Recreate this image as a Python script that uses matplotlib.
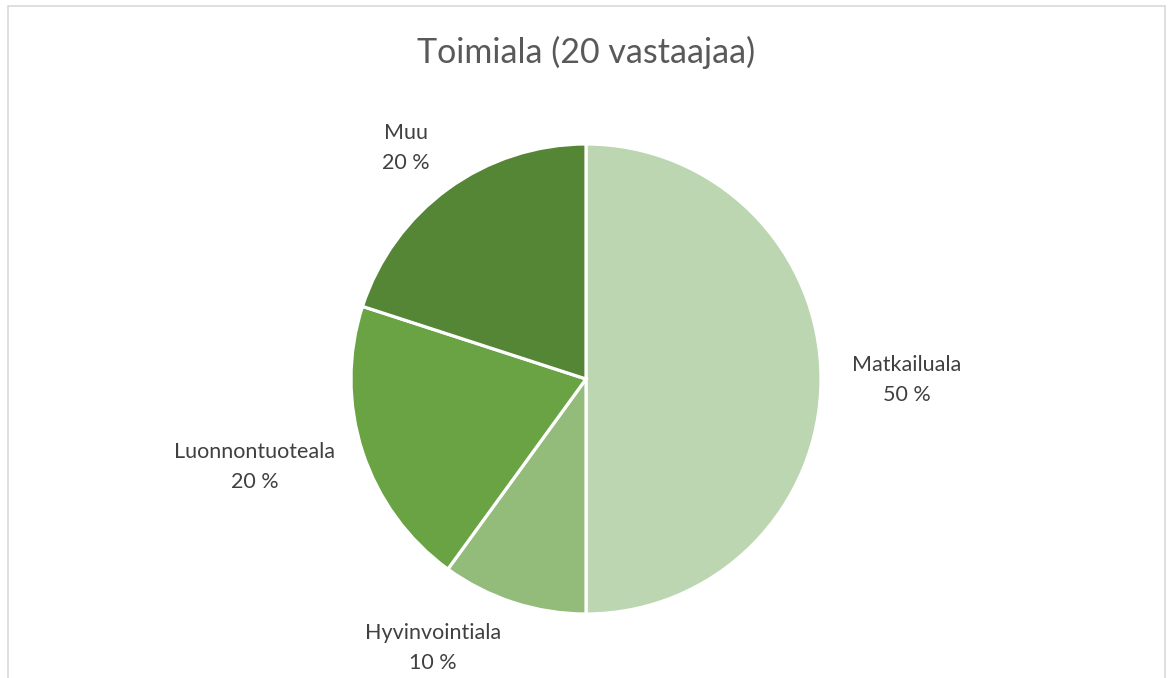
import matplotlib.pyplot as plt
from matplotlib.patches import Rectangle

# -----------------------------
# Données
# -----------------------------
categories = ["Matkailuala", "Hyvinvointiala", "Luonnontuoteala", "Muu"]
shares = [50, 10, 20, 20]
colors = ["#BDD6B2", "#93BC7B", "#69A343", "#548636"]
title = "Toimiala (20 vastaajaa)"

# positions des étiquettes (pixels, origine en bas à gauche)
label_pos = [(907, 298), (433, 30), (255, 211), (406, 530)]

W, H = 1168, 678
fig = plt.figure(figsize=(W / 100, H / 100), dpi=100)
ax = fig.add_axes([0, 0, 1, 1])

# cadre gris
ax.add_patch(Rectangle((7.5, -20), 1157, H - 6 + 20, fill=False,
                       edgecolor="#D9D9D9", linewidth=1.2))

ax.pie(shares, colors=colors, startangle=90, counterclock=False,
       center=(586, 299), radius=235, frame=True,
       wedgeprops=dict(edgecolor="white", linewidth=2.3))
ax.set_xlim(0, W)
ax.set_ylim(0, H)
ax.set_aspect("equal")
ax.axis("off")

for cat, val, (x, y) in zip(categories, shares, label_pos):
    ax.text(x, y, f"{cat}\n{val} %", ha="center", va="center",
            fontsize=15.5, color="#404040", family="Lato", linespacing=1.57)

ax.text(586, H - 52, title, ha="center", va="center",
        fontsize=24.5, color="#595959", family="Lato")

fig.savefig("out.png", dpi=100)
